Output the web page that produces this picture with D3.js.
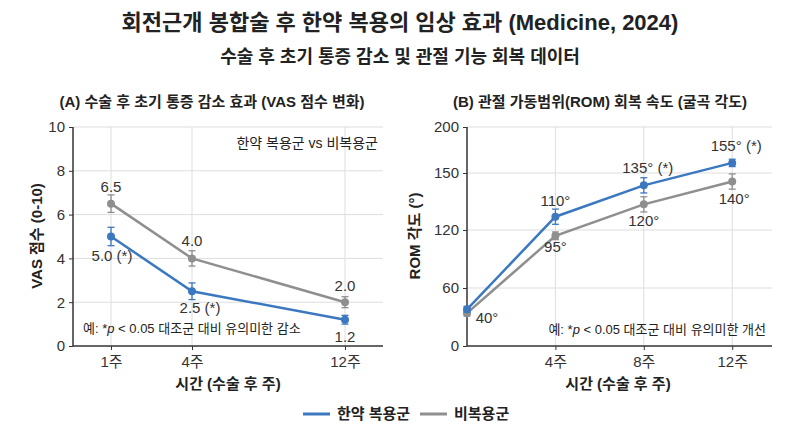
<!DOCTYPE html>
<html><head><meta charset="utf-8">
<script src="https://cdn.jsdelivr.net/npm/d3@7"></script>
<style>
body{margin:0;background:#fff;}
text{font-family:"Liberation Sans","Noto Sans CJK KR",sans-serif;fill:#222;}
</style></head>
<body><svg id="c" width="800" height="436"></svg>
<script>
// Panel A: VAS scores
const vasWeeks = [1, 4, 12];
const vasHerbal = [5.0, 2.5, 1.2];
const vasHerbalErr = [0.42, 0.38, 0.2];
const vasControl = [6.5, 4.0, 2.0];
const vasControlErr = [0.4, 0.35, 0.25];
const vasHerbalLabels = ["5.0 (*)", "2.5 (*)", "1.2"];
const vasControlLabels = ["6.5", "4.0", "2.0"];
const vasTicks = [0, 2, 4, 6, 8, 10];

// Panel B: ROM (plotted positions as drawn on the odd axis)
const romWeeks = [0, 4, 8, 12];
const romHerbal = [38, 127, 143.5, 161];
const romControl = [34, 114, 133.5, 145.5];
const romErr = [3, 4, 4, 4];
const romHerbalLabels = ["", "110°", "135° (*)", "155° (*)"];
const romControlLabels = ["40°", "95°", "120°", "140°"];
const romTicks = [0, 60, 120, 150, 200];
const romTickLabels = ["4주", "8주", "12주"];

const blue = "#3b78c0", gray = "#8f8f8f";
const svg = d3.select("#c");

svg.append("text").attr("x", 400).attr("y", 30).attr("text-anchor", "middle")
  .style("font-size", "22px").style("font-weight", "700")
  .text("회전근개 봉합술 후 한약 복용의 임상 효과 (Medicine, 2024)");
svg.append("text").attr("x", 400).attr("y", 63).attr("text-anchor", "middle")
  .style("font-size", "18px").style("font-weight", "700")
  .text("수술 후 초기 통증 감소 및 관절 기능 회복 데이터");

function panel(o) {
  const g = svg.append("g");
  const x = o.x, y = o.y;
  g.append("text").attr("x", o.titleX).attr("y", 107).attr("text-anchor", "middle")
    .style("font-size", "15px").style("font-weight", "700").text(o.title);
  // grid
  g.selectAll(".hg").data(o.yTicks.filter(d => d > 0)).enter().append("line")
    .attr("x1", x.range()[0]).attr("x2", x.range()[x.range().length - 1])
    .attr("y1", d => y(d)).attr("y2", d => y(d)).attr("stroke", "#ddd");
  g.selectAll(".vg").data(o.xTicks).enter().append("line")
    .attr("x1", d => x(d)).attr("x2", d => x(d))
    .attr("y1", y.range()[y.range().length - 1]).attr("y2", y.range()[0]).attr("stroke", "#ddd");
  const ya = g.append("g").attr("transform", `translate(${x.range()[0]},0)`)
    .call(d3.axisLeft(y).tickValues(o.yTicks).tickSize(4).tickPadding(4));
  const xa = g.append("g").attr("transform", `translate(0,${y.range()[0]})`)
    .call(d3.axisBottom(x).tickValues(o.xTicks).tickFormat((d, i) => o.xLabels[i]).tickSize(4).tickPadding(6));
  [ya, xa].forEach(a => {
    a.select(".domain").attr("stroke", "#333").attr("stroke-width", 1.5);
    a.selectAll("line").attr("stroke", "#333");
    a.selectAll("text").style("font-size", "15px").style("fill", "#333")
      .style("font-family", "'Liberation Sans','Noto Sans CJK KR',sans-serif");
  });
  xa.select(".domain").attr("d", `M${x.range()[0]},0H${x.range()[x.range().length - 1]}`);
  ya.select(".domain").attr("d", `M0,${y.range()[0]}V${y.range()[y.range().length - 1]}`);
  g.append("text").attr("x", o.xLabelX).attr("y", 389).attr("text-anchor", "middle")
    .style("font-size", "15px").style("font-weight", "700").text("시간 (수술 후 주)");
  g.append("text").attr("transform", `translate(${o.yLabelX},236)rotate(-90)`).attr("text-anchor", "middle")
    .style("font-size", "15px").style("font-weight", "700").text(o.yLabel);

  const line = d3.line().x(d => x(d[0])).y(d => y(d[1]));
  o.series.forEach(s => {
    const pts = o.weeks.map((w, i) => [w, s.vals[i], s.err[i]]);
    g.append("path").datum(pts).attr("d", line).attr("fill", "none")
      .attr("stroke", s.color).attr("stroke-width", 2.5);
    const e = g.selectAll(null).data(pts).enter().append("g").attr("stroke", s.color).attr("stroke-width", 1.3);
    e.append("line").attr("x1", d => x(d[0])).attr("x2", d => x(d[0]))
      .attr("y1", d => y(d[1] - d[2])).attr("y2", d => y(d[1] + d[2]));
    e.append("line").attr("x1", d => x(d[0]) - 3.5).attr("x2", d => x(d[0]) + 3.5)
      .attr("y1", d => y(d[1] + d[2])).attr("y2", d => y(d[1] + d[2]));
    e.append("line").attr("x1", d => x(d[0]) - 3.5).attr("x2", d => x(d[0]) + 3.5)
      .attr("y1", d => y(d[1] - d[2])).attr("y2", d => y(d[1] - d[2]));
    g.selectAll(null).data(pts).enter().append("circle")
      .attr("cx", d => x(d[0])).attr("cy", d => y(d[1])).attr("r", 4).attr("fill", s.color);
    g.selectAll(null).data(pts).enter().append("text")
      .attr("x", (d, i) => x(d[0]) + s.dx[i]).attr("y", (d, i) => y(d[1]) + s.dy[i])
      .attr("text-anchor", "middle").style("font-size", "15px").style("fill", "#333")
      .text((d, i) => s.labels[i]);
  });
  return g;
}

const xA = d3.scaleLinear().domain([0, 1, 4, 12, 14]).range([73, 111, 192, 345, 383]);
const yA = d3.scaleLinear().domain([0, 10]).range([346, 127]);
const gA = panel({
  x: xA, y: yA, title: "(A) 수술 후 초기 통증 감소 효과 (VAS 점수 변화)", titleX: 212,
  yTicks: vasTicks, xTicks: vasWeeks, xLabels: vasWeeks.map(w => w + "주"),
  xLabelX: 228, yLabelX: 42, yLabel: "VAS 점수 (0-10)", weeks: vasWeeks,
  series: [
    {vals: vasControl, err: vasControlErr, color: gray, labels: vasControlLabels, dx: [0, 0, 0], dy: [-12, -12, -11]},
    {vals: vasHerbal, err: vasHerbalErr, color: blue, labels: vasHerbalLabels, dx: [1, 8, 0], dy: [24, 22, 22]}
  ]
});
gA.append("text").attr("x", 378).attr("y", 148).attr("text-anchor", "end")
  .style("font-size", "14px").text("한약 복용군 vs 비복용군");
gA.append("text").attr("x", 83).attr("y", 333).style("font-size", "13px")
  .html("예: *<tspan font-style='italic'>p</tspan> &lt; 0.05 대조군 대비 유의미한 감소");

const xB = d3.scaleLinear().domain([0, 13.8]).range([467, 772]);
const yB = d3.scaleLinear().domain(romTicks).range([346, 288, 230, 173, 127]);
const gB = panel({
  x: xB, y: yB, title: "(B) 관절 가동범위(ROM) 회복 속도 (굴곡 각도)", titleX: 600,
  yTicks: romTicks, xTicks: [4, 8, 12], xLabels: romTickLabels,
  xLabelX: 618, yLabelX: 420, yLabel: "ROM 각도 (°)", weeks: romWeeks,
  series: [
    {vals: romControl, err: romErr, color: gray, labels: romControlLabels, dx: [20, 0, 0, 2], dy: [10, 16, 22, 22]},
    {vals: romHerbal, err: romErr, color: blue, labels: romHerbalLabels, dx: [0, 0, 4, 4], dy: [0, -11, -12, -12]}
  ]
});
gB.append("text").attr("x", 766).attr("y", 334).attr("text-anchor", "end").style("font-size", "13px")
  .html("예: *<tspan font-style='italic'>p</tspan> &lt; 0.05 대조군 대비 유의미한 개선");

// legend
const leg = svg.append("g").attr("transform", "translate(0,414)");
[[blue, "한약 복용군", 303], [gray, "비복용군", 420]].forEach(d => {
  leg.append("line").attr("x1", d[2]).attr("x2", d[2] + 27).attr("stroke", d[0]).attr("stroke-width", 3);
  leg.append("text").attr("x", d[2] + 34).attr("y", 5).style("font-size", "15px").style("font-weight", "700").text(d[1]);
});
</script></body></html>
